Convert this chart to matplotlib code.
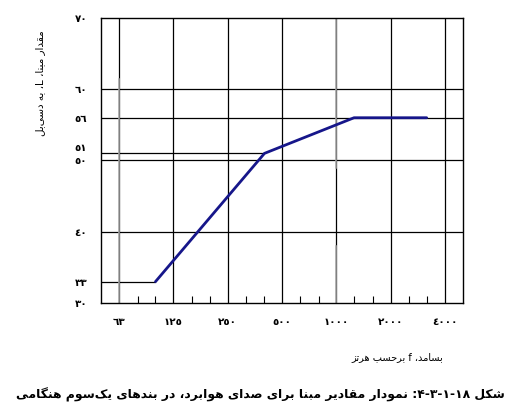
import re
import matplotlib
matplotlib.use("Agg")
import matplotlib.pyplot as plt
from matplotlib.ticker import FixedLocator, NullFormatter, NullLocator

# reference curve for airborne sound, one-third octave bands
freq = [100, 400, 1250, 3150]
level = [33, 51, 56, 56]

band_centres = [63, 125, 250, 500, 1000, 2000, 4000]
band_labels = ["٦٣", "١٢٥", "٢٥٠", "٥٠٠", "١٠٠٠", "٢٠٠٠", "٤٠٠٠"]
third_octaves = [80, 100, 160, 200, 315, 400, 630, 800, 1250, 1600, 2500, 3150]
level_ticks = [30, 33, 40, 50, 51, 56, 60, 70]
level_labels = ["٣٠", "٣٣", "٤٠", "٥٠", "٥١", "٥٦", "٦٠", "٧٠"]
full_rules = [40, 50, 56, 60]

ylabel_text = "مقدار مبنا، L، به دسی\u200cبل"
xlabel_text = "بسامد، f برحسب هرتز"
caption_text = "شکل ۱۸-۱-۳-۴: نمودار مقادیر مبنا برای صدای هوابرد، در بندهای یک\u200cسوم هنگامی"

# matplotlib has no arabic shaping, so pick presentation forms by hand
# (isolated, final, initial, medial)
FORMS = {
    "ا": (0xFE8D, 0xFE8E, None, None),
    "ب": (0xFE8F, 0xFE90, 0xFE91, 0xFE92),
    "ت": (0xFE95, 0xFE96, 0xFE97, 0xFE98),
    "ح": (0xFEA1, 0xFEA2, 0xFEA3, 0xFEA4),
    "د": (0xFEA9, 0xFEAA, None, None),
    "ر": (0xFEAD, 0xFEAE, None, None),
    "ز": (0xFEAF, 0xFEB0, None, None),
    "س": (0xFEB1, 0xFEB2, 0xFEB3, 0xFEB4),
    "ش": (0xFEB5, 0xFEB6, 0xFEB7, 0xFEB8),
    "ص": (0xFEB9, 0xFEBA, 0xFEBB, 0xFEBC),
    "ق": (0xFED5, 0xFED6, 0xFED7, 0xFED8),
    "ل": (0xFEDD, 0xFEDE, 0xFEDF, 0xFEE0),
    "م": (0xFEE1, 0xFEE2, 0xFEE3, 0xFEE4),
    "ن": (0xFEE5, 0xFEE6, 0xFEE7, 0xFEE8),
    "ه": (0xFEE9, 0xFEEA, 0xFEEB, 0xFEEC),
    "و": (0xFEED, 0xFEEE, None, None),
    "ک": (0xFB8E, 0xFB8F, 0xFB90, 0xFB91),
    "گ": (0xFB92, 0xFB93, 0xFB94, 0xFB95),
    "ی": (0xFBFC, 0xFBFD, 0xFBFE, 0xFBFF),
}


def links_forward(c):
    return c in FORMS and FORMS[c][2] is not None


def shape_word(word):
    out = []
    for i, c in enumerate(word):
        if c not in FORMS:
            continue  # drops the zero width non-joiner
        prev = word[i - 1] if i > 0 else None
        nxt = word[i + 1] if i + 1 < len(word) else None
        jp = prev is not None and links_forward(prev)
        jn = nxt is not None and nxt in FORMS and links_forward(c)
        iso, fin, ini, med = FORMS[c]
        if jp and jn:
            out.append(chr(med))
        elif jp:
            out.append(chr(fin))
        elif jn:
            out.append(chr(ini))
        else:
            out.append(chr(iso))
    return "".join(reversed(out))


def rtl(text):
    tokens = re.findall(r"[\u0621-\u064A\u067E\u0686\u0698\u06A9\u06AF\u06CC\u200c]+"
                        r"|[0-9\u0660-\u0669\u06F0-\u06F9]+|.", text)
    vis = []
    for t in tokens:
        if t[0] in FORMS or t[0] == "\u200c":
            vis.append(shape_word(t))
        else:
            vis.append(t)
    return "".join(reversed(vis))


plt.rcParams["font.family"] = ["DejaVu Sans"]

fig = plt.figure(figsize=(5.11, 4.15), dpi=100)
ax = fig.add_axes([101 / 511, 1 - 303 / 415, 362 / 511, 285 / 415])
ax.set_xscale("log")
ax.set_xlim(50, 5000)
ax.set_ylim(30, 70)

for f in band_centres:
    ax.axvline(f, color="black", lw=0.9, zorder=1)
# the scan shows two of the verticals faded to grey
ax.plot([63, 63], [30, 61.5], color="#a8a8a8", lw=1.1, zorder=1.5)
ax.plot([1000, 1000], [49, 70], color="#a8a8a8", lw=1.1, zorder=1.5)
ax.plot([1000, 1000], [30, 38], color="#a8a8a8", lw=1.1, zorder=1.5)

for y in full_rules:
    ax.axhline(y, color="black", lw=0.9, zorder=1)
ax.plot([50, freq[0]], [level[0], level[0]], color="black", lw=0.9, zorder=1)
ax.plot([50, freq[1]], [level[1], level[1]], color="black", lw=0.9, zorder=1)

ax.plot(freq, level, color="#16168a", lw=2.0, solid_capstyle="round", zorder=3)

ax.set_xticks(band_centres, band_labels)
ax.xaxis.set_minor_locator(FixedLocator(third_octaves))
ax.xaxis.set_minor_formatter(NullFormatter())
ax.set_yticks(level_ticks, level_labels)
ax.yaxis.set_minor_locator(NullLocator())
ax.tick_params(axis="both", which="major", length=0, pad=10, labelsize=7.5)
ax.tick_params(axis="x", which="minor", direction="in", length=5, width=0.8)
for lab in ax.get_xticklabels() + ax.get_yticklabels():
    lab.set_fontweight("bold")
# 51 sits just above the 50 label in the original
ax.get_yticklabels()[level_ticks.index(51)].set_va("bottom")
for s in ax.spines.values():
    s.set_linewidth(1.0)

fig.text(40 / 511, 1 - 83 / 415, rtl(ylabel_text), rotation=90, ha="center", va="center", fontsize=7.5)
fig.text(397 / 511, 1 - 357 / 415, rtl(xlabel_text), ha="center", va="center", fontsize=7)
fig.text(260 / 511, 1 - 395 / 415, rtl(caption_text), ha="center", va="center", fontsize=8.9, fontweight="bold")

fig.savefig("out.png", dpi=100)
